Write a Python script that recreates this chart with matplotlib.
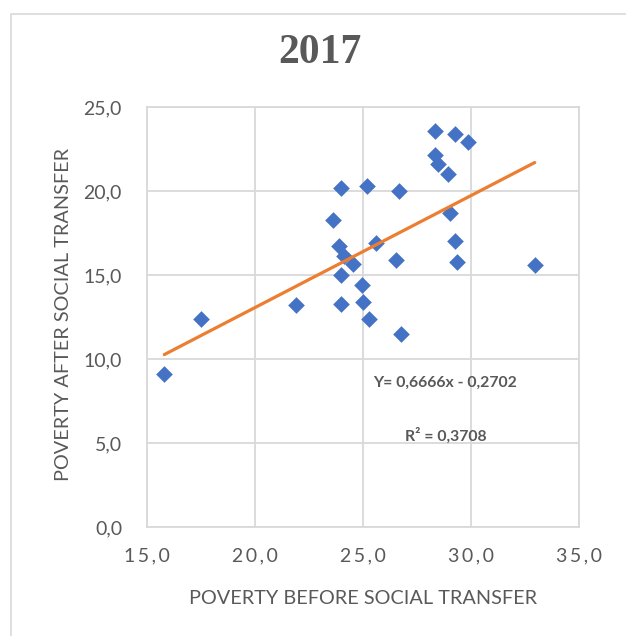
import matplotlib
matplotlib.use("Agg")
import matplotlib.pyplot as plt
from matplotlib.patches import Rectangle
import numpy as np

# Poverty rates before and after social transfers, 2017
before_transfer = [15.8, 17.5, 21.9, 24.0, 25.2, 23.6, 23.9, 24.1, 24.55, 25.6,
                   24.0, 24.95, 24.0, 25.0, 25.3, 28.35, 29.25, 29.85, 28.35,
                   28.45, 28.95, 26.65, 29.05, 29.25, 26.55, 29.35, 32.95, 26.75]
after_transfer = [9.1, 12.4, 13.2, 20.2, 20.3, 18.3, 16.7, 16.15, 15.65, 16.9,
                  15.0, 14.4, 13.25, 13.4, 12.4, 23.6, 23.4, 22.9, 22.15,
                  21.6, 21.0, 20.0, 18.7, 17.0, 15.9, 15.8, 15.6, 11.5]

# Linear trend as reported on the chart
slope = 0.6666
intercept = -0.2702
r_squared = 0.3708

x_ticks = [15.0, 20.0, 25.0, 30.0, 35.0]
y_ticks = [0.0, 5.0, 10.0, 15.0, 20.0, 25.0]

text_color = "#595959"
grid_color = "#D9D9D9"
font = "Lato"

fig = plt.figure(figsize=(6.26, 6.36), dpi=100)
fig.patch.set_facecolor("white")

# chart-area frame
fig.patches.append(Rectangle((11 / 626, -0.05), 1.2, (636 - 14) / 636 + 0.05,
                             transform=fig.transFigure, fill=False,
                             edgecolor=grid_color, linewidth=1.2))

ax = fig.add_axes([147 / 626, (636 - 527) / 636, 432 / 626, 420 / 636])
ax.set_xlim(15, 35)
ax.set_ylim(0, 25)
ax.set_xticks(x_ticks)
ax.set_yticks(y_ticks)
ax.grid(True, color=grid_color, linewidth=1.3)
ax.set_axisbelow(True)
for s in ax.spines.values():
    s.set_color(grid_color)
    s.set_linewidth(1.3)
ax.tick_params(length=0, colors=text_color)

def spaced(v):
    return "\u2009".join(f"{v:.1f}".replace(".", ","))

ax.set_xticklabels([spaced(v) for v in x_ticks], fontsize=14,
                   family=[font, "DejaVu Sans"], color=text_color)
ax.set_yticklabels([f"{v:.1f}".replace(".", ",") for v in y_ticks],
                   fontsize=14, family=font, color=text_color)
ax.tick_params(axis="x", pad=15)
ax.tick_params(axis="y", pad=18)

ax.scatter(before_transfer, after_transfer, marker="D", s=8.5 ** 2,
           color="#4472C4", linewidths=0, zorder=3)

xs = np.array([min(before_transfer), max(before_transfer)])
ax.plot(xs, slope * xs + intercept, color="#ED7D31", linewidth=2.3,
        solid_capstyle="round", zorder=4)

ax.text((445 - 147) / 432 * 20 + 15, 25 - (383 - 107) / 420 * 25,
        f"Y= {slope:.4f}x - {abs(intercept):.4f}".replace(".", ","),
        ha="center", va="center", fontsize=11.3, fontweight="bold",
        family=font, color=text_color, zorder=5)
ax.text((446 - 147) / 432 * 20 + 15, 25 - (436 - 107) / 420 * 25,
        f"R² = {r_squared:.4f}".replace(".", ","),
        ha="center", va="center", fontsize=11.3, fontweight="bold",
        family=font, color=text_color, zorder=5)

ax.set_xlabel("POVERTY BEFORE SOCIAL TRANSFER", fontsize=14.3, family=font,
              color=text_color, labelpad=18)
ax.set_ylabel("POVERTY AFTER SOCIAL TRANSFER", fontsize=14.3, family=font,
              color=text_color)
ax.yaxis.set_label_coords((72 - 147) / 432, 0.505)

fig.text(320 / 626, 1 - 53 / 636, "2017", ha="center", va="center",
         fontsize=30, fontweight="bold", family="Liberation Serif",
         color=text_color)

fig.savefig("out.png", dpi=100, facecolor="white")
